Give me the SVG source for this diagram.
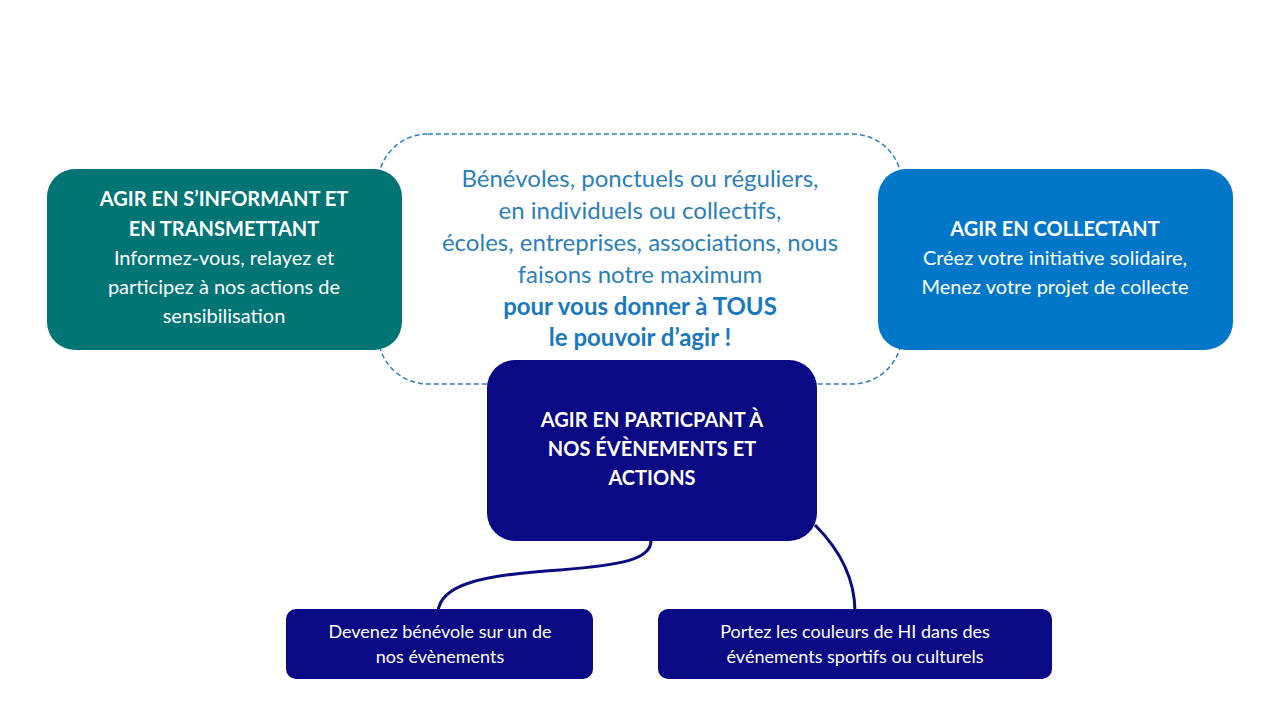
<svg xmlns="http://www.w3.org/2000/svg" width="1280" height="720" viewBox="0 0 1280 720">
<style>
.t{font-family:Lato,"Liberation Sans",sans-serif;text-anchor:middle;font-size:20px}
.w{fill:#fff}
.b{font-weight:bold}
.c{fill:#2b7fb8}
.cb{fill:#1a78bd;font-weight:bold}
.s{font-size:18px}
.con{fill:none;stroke:#0c0c80;stroke-width:3}
</style>
<rect width="1280" height="720" fill="#fff"/>
<g id="center">
<rect x="378" y="134" width="524" height="250" rx="50" fill="#fff" stroke="#2b7fb8" stroke-width="1.5" stroke-dasharray="5,3"/>
<text class="t c" font-size="24" style="font-size:24px"><tspan x="640" y="187">Bénévoles, ponctuels ou réguliers,</tspan><tspan x="640" y="219">en individuels ou collectifs,</tspan><tspan x="640" y="251">écoles, entreprises, associations, nous</tspan><tspan x="640" y="283">faisons notre maximum</tspan></text>
<text class="t cb" style="font-size:24px"><tspan x="640" y="315">pour vous donner à TOUS</tspan><tspan x="640" y="346">le pouvoir d’agir !</tspan></text>
</g>
<g id="connectors">
<path class="con" d="M651 540 C652 560 620 565 560 570 C480 575 440 585 438 612"/>
<path class="con" d="M815 525 C845 555 855 585 855 612"/>
</g>
<g id="left">
<rect x="47" y="169" width="355" height="181" rx="28" fill="#017474"/>
<text class="t w b"><tspan x="224" y="206">AGIR EN S’INFORMANT ET</tspan><tspan x="224" y="236">EN TRANSMETTANT</tspan></text>
<text class="t w"><tspan x="224" y="265">Informez-vous, relayez et</tspan><tspan x="224" y="294">participez à nos actions de</tspan><tspan x="224" y="323">sensibilisation</tspan></text>
</g>
<g id="right">
<rect x="878" y="169" width="355" height="181" rx="28" fill="#0277c8"/>
<text class="t w b" x="1055" y="236">AGIR EN COLLECTANT</text>
<text class="t w"><tspan x="1055" y="265">Créez votre initiative solidaire,</tspan><tspan x="1055" y="294">Menez votre projet de collecte</tspan></text>
</g>
<g id="middle">
<rect x="487" y="360" width="330" height="181" rx="28" fill="#0a0a84"/>
<text class="t w b"><tspan x="652" y="427">AGIR EN PARTICPANT À</tspan><tspan x="652" y="456">NOS ÉVÈNEMENTS ET</tspan><tspan x="652" y="485">ACTIONS</tspan></text>
</g>
<g id="n1">
<rect x="286" y="609" width="307" height="70" rx="10" fill="#0a0a84"/>
<text class="t w s"><tspan x="440" y="638">Devenez bénévole sur un de</tspan><tspan x="440" y="663">nos évènements</tspan></text>
</g>
<g id="n2">
<rect x="658" y="609" width="394" height="70" rx="10" fill="#0a0a84"/>
<text class="t w s"><tspan x="855" y="638">Portez les couleurs de HI dans des</tspan><tspan x="855" y="663">événements sportifs ou culturels</tspan></text>
</g>
</svg>
